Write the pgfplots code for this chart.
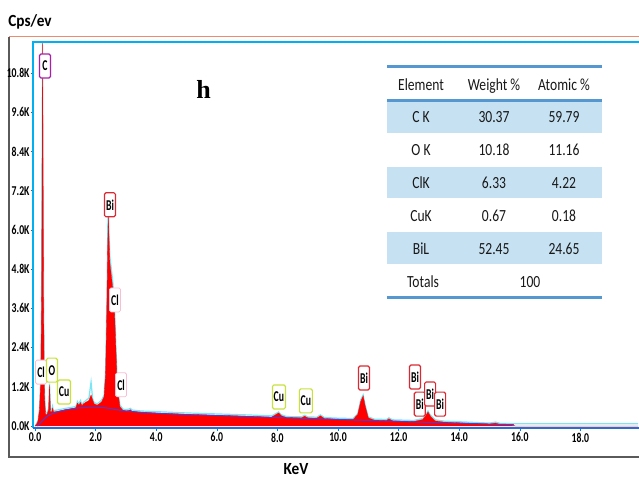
\documentclass[border=0pt]{standalone}
\usepackage{fontspec}
\usepackage{pgfplots}
\pgfplotsset{compat=1.18}
\usepackage{pgfplotstable}
\setmainfont{Carlito}
\newfontfamily\tickfont[FakeStretch=0.72]{Carlito}
\newfontfamily\labfont[FakeStretch=0.9]{Carlito}
\newfontfamily\tabfont[FakeStretch=0.8]{Carlito}
\newfontfamily\boxfont[FakeStretch=0.65]{Carlito}
\newfontfamily\hfont{Liberation Serif}
\definecolor{cyanline}{RGB}{0,176,240}
\definecolor{speccyan}{RGB}{120,230,245}
\definecolor{specred}{RGB}{255,0,0}
\definecolor{bgblue}{RGB}{80,60,210}
\definecolor{tabline}{RGB}{84,151,209}
\definecolor{tabshade}{RGB}{198,225,242}
\definecolor{framegrey}{RGB}{90,90,90}
\definecolor{frametop}{RGB}{235,140,110}
\definecolor{boxC}{RGB}{170,30,170}
\definecolor{boxBi}{RGB}{220,40,50}
\definecolor{boxCl}{RGB}{250,190,210}
\definecolor{boxCu}{RGB}{200,225,60}
\definecolor{axblue}{RGB}{40,110,210}

\pgfplotstableread{
x r c
0.00 0 0
0.05 0.05 0.07
0.10 0.15 0.18
0.15 0.5 0.55
0.19 1.4 1.5
0.22 4.0 4.5
0.25 11.9 11.9
0.28 4.0 4.5
0.31 1.0 1.1
0.33 0.6 0.7
0.35 0.35 0.4
0.40 0.36 0.4
0.45 0.5 0.55
0.48 1.25 1.3
0.51 0.45 0.5
0.55 0.42 0.46
0.58 0.55 0.6
0.61 0.43 0.47
0.80 0.46 0.5
1.00 0.5 0.54
1.20 0.53 0.57
1.35 0.56 0.6
1.40 0.7 0.75
1.45 0.64 0.68
1.50 0.72 0.78
1.55 0.62 0.66
1.60 0.68 0.72
1.70 0.74 0.8
1.78 0.78 0.85
1.85 0.95 1.35
1.90 0.8 0.85
1.95 0.68 0.72
2.05 0.64 0.68
2.15 0.7 0.75
2.20 0.74 0.8
2.28 0.9 0.95
2.33 1.6 1.7
2.37 3.5 3.7
2.40 5.5 6.0
2.42 6.4 6.9
2.44 5.8 6.0
2.47 5.0 5.2
2.52 4.6 4.8
2.57 4.2 4.4
2.62 3.6 3.75
2.66 2.6 2.7
2.70 1.6 1.7
2.75 0.95 1.0
2.80 0.6 0.65
2.90 0.48 0.52
3.00 0.46 0.5
3.10 0.48 0.52
3.15 0.5 0.54
3.20 0.45 0.49
3.50 0.42 0.46
4.00 0.4 0.44
5.00 0.36 0.4
6.00 0.33 0.37
7.00 0.3 0.34
7.80 0.27 0.31
7.95 0.35 0.38
8.04 0.4 0.43
8.12 0.32 0.35
8.30 0.26 0.29
8.80 0.25 0.28
8.90 0.3 0.33
9.00 0.25 0.28
9.30 0.24 0.27
9.42 0.31 0.34
9.55 0.23 0.26
10.00 0.21 0.24
10.50 0.2 0.23
10.65 0.35 0.38
10.75 0.75 0.8
10.83 0.92 0.95
10.90 0.6 0.63
11.00 0.25 0.28
11.20 0.18 0.21
11.60 0.17 0.2
11.68 0.22 0.25
11.80 0.16 0.19
12.50 0.14 0.17
12.80 0.2 0.23
12.90 0.32 0.35
12.97 0.43 0.46
13.05 0.3 0.33
13.20 0.16 0.19
13.50 0.12 0.15
14.00 0.1 0.13
15.00 0.06 0.09
15.20 0.09 0.12
15.35 0.05 0.08
15.80 0.02 0.07
15.85 0 0.07
20.00 0 0.07
}\spec

\pgfplotstableread{
x b
0.08 0
0.2 0.12
0.35 0.26
0.5 0.35
0.7 0.42
1.0 0.49
1.4 0.55
1.9 0.58
2.3 0.56
2.7 0.5
3.0 0.46
3.5 0.42
4 0.39
5 0.35
6 0.32
7 0.29
8 0.26
9 0.23
10 0.2
11 0.17
12 0.14
13 0.11
14 0.085
15 0.06
15.8 0.04
}\bg

\begin{document}
\begin{tikzpicture}[
  lbl/.style={draw, line width=1.2pt, rounded corners=1.5pt, fill=white, inner sep=0pt,
    minimum width=11pt, minimum height=24pt, text=black,
    font=\boxfont\bfseries\fontsize{15}{15}\selectfont}]
\fill[white] (0pt,0pt) rectangle (639pt,479pt);
\begin{scope}[x=1pt,y=1pt]
\draw[frametop, line width=1pt] (9,442) -- (639,442);
\draw[framegrey, line width=1.5pt] (9,442) -- (9,22) -- (639,22);
% table
\fill[tabshade] (387.3,377.3) rectangle (601.7,346.3);
\fill[tabshade] (387.3,312.3) rectangle (601.7,280.7);
\fill[tabshade] (387.3,246.7) rectangle (601.7,215);
\draw[tabline, line width=2.5pt] (387.3,412.3) -- (601.7,412.3);
\draw[tabline, line width=2.5pt] (387.3,378.3) -- (601.7,378.3);
\draw[tabline, line width=2.5pt] (387.3,181.3) -- (601.7,181.3);
\end{scope}

\begin{axis}[at={(33pt,51pt)}, anchor=south west, scale only axis,
  width=605pt, height=386pt,
  xmin=-0.066, xmax=19.901, ymin=-0.061, ymax=11.755,
  axis line style={draw=none},
  xtick={0,2,4,6,8,10,12,14,16,18},
  ytick={0,1.2,2.4,3.6,4.8,6.0,7.2,8.4,9.6,10.8},
  xtick pos=lower, ytick pos=left,
  tick align=outside, major tick length=2.5pt,
  xtick style={color=cyanline!70!blue, line width=0.6pt},
  ytick style={color=framegrey, line width=0.6pt},
  /pgf/number format/assume math mode=true,
  xticklabel={\pgfmathprintnumber[fixed,fixed zerofill,precision=1]{\tick}},
  yticklabel={\pgfmathprintnumber[fixed,fixed zerofill,precision=1]{\tick}K},
  ticklabel style={font=\tickfont\bfseries\fontsize{13.5}{13.5}\selectfont, text=black},
  yticklabel style={inner xsep=0.8pt},
  xticklabel style={inner ysep=2pt},
  clip=true,
]
\addplot[speccyan, line width=1.2pt] table[x=x, y=c] {\spec};
\addplot[fill=specred, draw=specred, line width=0.3pt] table[x=x, y=r] {\spec};
\addplot[bgblue, line width=1pt, smooth] table[x=x, y=b] {\bg};

\node[lbl, draw=boxC] at (axis cs:0.33,11.02) {C};
\node[lbl, draw=boxBi] at (axis cs:2.475,6.77) {Bi};
\node[lbl, draw=boxCl, line width=0.8pt] at (axis cs:2.64,3.86) {Cl};
\node[lbl, draw=boxCl, line width=0.8pt] at (axis cs:2.84,1.26) {Cl};
\node[lbl, draw=boxCl, line width=0.8pt] at (axis cs:0.2,1.65) {Cl};
\node[lbl, draw=boxCu] at (axis cs:0.56,1.71) {O};
\node[lbl, draw=boxCu, minimum width=13pt] at (axis cs:0.96,1.04) {Cu};
\node[lbl, draw=boxCu, minimum width=13pt] at (axis cs:8.05,0.89) {Cu};
\node[lbl, draw=boxCu, minimum width=13pt] at (axis cs:8.94,0.77) {Cu};
\node[lbl, draw=boxBi] at (axis cs:10.86,1.47) {Bi};
\node[lbl, draw=boxBi] at (axis cs:12.54,1.5) {Bi};
\node[lbl, draw=boxBi] at (axis cs:12.7,0.67) {Bi};
\node[lbl, draw=boxBi] at (axis cs:13.04,0.98) {Bi};
\node[lbl, draw=boxBi] at (axis cs:13.37,0.67) {Bi};
\end{axis}

\begin{scope}[x=1pt,y=1pt]
\draw[cyanline, line width=1.5pt] (33,51) -- (33,437) -- (639,437);
\draw[axblue, line width=1.2pt] (33,51) -- (639,51);
\node[font=\labfont\bfseries\fontsize{17}{17}\selectfont, anchor=base] at (30,452) {Cps/ev};
\node[font=\labfont\bfseries\fontsize{17}{17}\selectfont, anchor=base] at (296,4.5) {KeV};
\node[font=\hfont\bfseries\fontsize{26}{26}\selectfont, anchor=base] at (203.5,380) {h};
\begin{scope}[every node/.style={anchor=base, inner sep=0pt, text=black!90, font=\tabfont\fontsize{17}{17}\selectfont}]
\node at (421,388.5) {Element};
\node at (494,388.5) {Weight \%};
\node at (564,388.5) {Atomic \%};
\node at (421,356) {C K};
\node at (494,356) {30.37};
\node at (564,356) {59.79};
\node at (421,323) {O K};
\node at (494,323) {10.18};
\node at (564,323) {11.16};
\node at (421,290.5) {ClK};
\node at (494,290.5) {6.33};
\node at (564,290.5) {4.22};
\node at (421,257.5) {CuK};
\node at (494,257.5) {0.67};
\node at (564,257.5) {0.18};
\node at (421,224.5) {BiL};
\node at (494,224.5) {52.45};
\node at (564,224.5) {24.65};
\node at (423,191.5) {Totals};
\node at (530,191.5) {100};
\end{scope}
\end{scope}
\pgfresetboundingbox
\path[use as bounding box] (0pt,0pt) rectangle (639pt,479pt);
\end{tikzpicture}
\end{document}
